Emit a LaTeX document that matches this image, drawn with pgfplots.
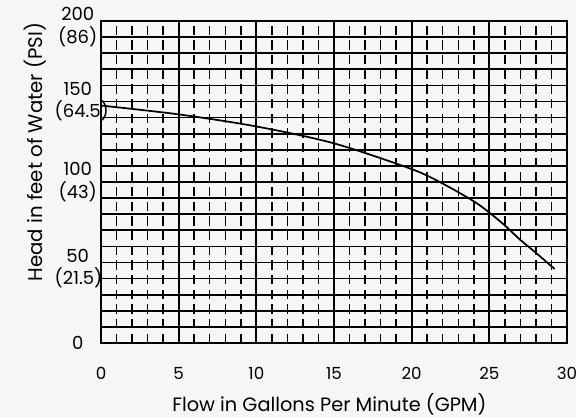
\documentclass[border=0pt]{standalone}
\usepackage{fontspec}
\setmainfont{Poppins}
\usepackage{pgfplots}
\pgfplotsset{compat=1.18}
\usetikzlibrary{backgrounds}
\definecolor{bg}{RGB}{246,246,248}
\begin{document}
\begin{tikzpicture}[background rectangle/.style={fill=bg}, show background rectangle, inner frame sep=0pt]
\begin{axis}[
  name=ax,
  scale only axis, width=349.5pt, height=241.5pt,
  xmin=0, xmax=30, ymin=0, ymax=200,
  axis line style={black, line width=1.6pt},
  xtick={0,5,...,30},
  ytick={0,100,150},
  minor ytick={10,20,...,190},
  yticklabels={0,{100\\[1pt](43)},{150\\[1pt](64.5)}},
  extra y ticks={50,200},
  extra y tick labels={{50\\[1pt](21.5)},{200\\[1pt](86)}},
  extra y tick style={yticklabel style={yshift=-4.5pt}, major tick length=0pt},
  xmajorgrids, ymajorgrids, yminorgrids,
  major grid style={black, line width=1.35pt},
  minor grid style={black, line width=1.25pt},
  major tick length=0pt, minor tick length=0pt,
  extra x ticks={1,2,3,4,6,7,8,9,11,12,13,14,16,17,18,19,21,22,23,24,26,27,28,29},
  extra x tick labels={},
  extra x tick style={xmajorgrids=true, major grid style={black, line width=1.1pt, dash pattern=on 7pt off 4pt}, major tick length=0pt},
  /pgf/number format/assume math mode=true,
  xticklabel style={font=\fontsize{12.5}{15}\selectfont, anchor=center, yshift=-23pt},
  yticklabel style={font=\fontsize{13.5}{16}\selectfont, text width=34.5pt, align=center, anchor=east, inner xsep=0pt},
  xlabel={Flow in Gallons Per Minute (GPM)},
  ylabel={Head in feet of Water (PSI)},
  xlabel style={font=\fontsize{14.5}{16}\selectfont, at={(axis description cs:0.49,-0.1894)}, anchor=center},
  ylabel style={font=\fontsize{14.8}{16}\selectfont, at={(axis description cs:-0.1416,0.593)}, anchor=center},
]
\addplot[black, line width=1.3pt, smooth] coordinates {
(0,147.5) (5,142) (10,134.5) (15,124) (20,108) (22,99) (24,88) (25,81) (26,73) (27,64) (28,56) (29.2,46)
};
\end{axis}
\pgfresetboundingbox
\path ([shift={(-75.75pt,-55.5pt)}]ax.south west) rectangle ([shift={(6.75pt,15.75pt)}]ax.north east);
\end{tikzpicture}
\end{document}
